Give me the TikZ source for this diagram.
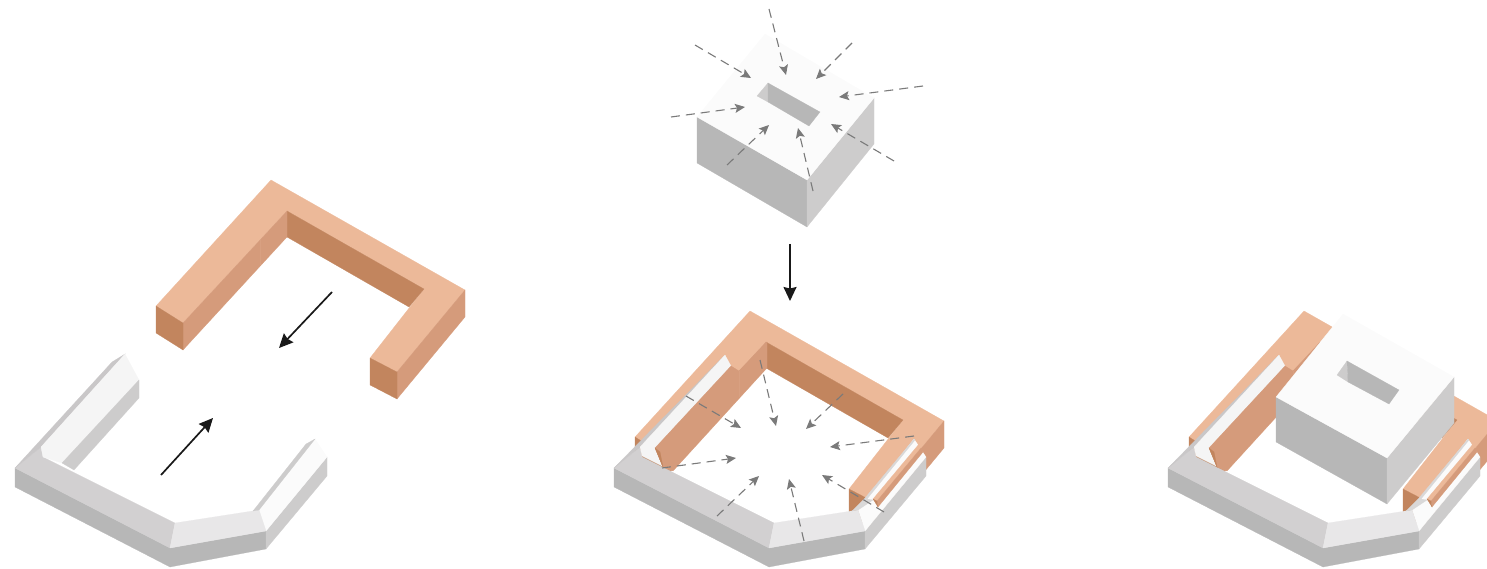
\documentclass[tikz,border=0pt]{standalone}
\usetikzlibrary{arrows.meta}
\definecolor{orangetop}{HTML}{ECB999}
\definecolor{orangeside}{HTML}{D59B7B}
\definecolor{orangeseam}{HTML}{D8A081}
\definecolor{orangedark}{HTML}{C2855E}
\definecolor{greyfront}{HTML}{B7B7B7}
\definecolor{greyside}{HTML}{CDCCCC}
\definecolor{greystrip}{HTML}{C9C7C8}
\definecolor{greyshade}{HTML}{D9D8D8}
\definecolor{greyband}{HTML}{D2D0D1}
\definecolor{paleband}{HTML}{E8E7E8}
\definecolor{paleface}{HTML}{F5F5F5}
\definecolor{whiteface}{HTML}{FBFBFB}
\tikzset{
	face/.style = {fill = #1, draw = #1, line width = 0.2pt},
	seam/.style = {draw = orangeseam, line width = 0.3pt},
	movearrow/.style = {line width = 1.7pt, color = black!90, -{Stealth[length = 14pt, width = 13pt, inset = 1.5pt]}},
	lightarrow/.style = {line width = 1.1pt, color = black!52, dash pattern = on 9pt off 6pt, -{Stealth[length = 10pt, width = 9pt, inset = 2pt]}}
}
% U shaped block, drawn as in the first panel
\newcommand{\orangeblock}{
	\fill [face = orangetop] (271,180) -- (465,290) -- (397,372) -- (370,358) -- (424,289) -- (287,211) -- (183,323) -- (156,306) -- cycle;
	\fill [face = orangeside] (465,290) -- (465,317) -- (397,399) -- (397,372) -- cycle;
	\fill [face = orangedark] (370,358) -- (397,372) -- (397,399) -- (370,385) -- cycle;
	\fill [face = orangedark] (287,211) -- (424,289) -- (409,307) -- (287,237) -- cycle;
	\fill [face = orangeside] (287,211) -- (287,237) -- (183,350) -- (183,323) -- cycle;
	\fill [face = orangedark] (156,306) -- (183,323) -- (183,350) -- (156,333) -- cycle;
	\draw [seam] (260,240) -- (260,266);
}
% front of the white base
\newcommand{\whitebase}{
	\fill [face = greyfront] (15,468) -- (170,548) -- (170,567) -- (15,487) -- cycle;
	\fill [face = greyfront] (170,548) -- (266,531) -- (266,549) -- (170,567) -- cycle;
	\fill [face = greyside] (266,531) -- (327,457) -- (327,476) -- (266,549) -- cycle;
	\fill [face = whiteface] (259,510) -- (315,439) -- (327,457) -- (266,531) -- cycle;
	\fill [face = greyband] (15,468) -- (41,447) -- (43,457) -- (175,523) -- (170,548) -- cycle;
	\fill [face = paleband] (175,523) -- (259,510) -- (266,531) -- (170,548) -- cycle;
}
% box with the open court
\newcommand{\courtbox}{
	\fill [face = greyfront] (697,117) -- (807,180) -- (807,227) -- (697,163) -- cycle;
	\fill [face = greyside] (807,180) -- (874,98) -- (874,144) -- (807,227) -- cycle;
	\fill [face = whiteface] (765,34) -- (874,98) -- (807,180) -- (697,117) -- cycle;
	\fill [face = greyside] (768,83) -- (757,96) -- (768,102) -- cycle;
	\fill [face = greyfront] (768,83) -- (820,112) -- (809,126) -- (768,102) -- cycle;
}
% both blocks pushed together, in the coordinates of the second panel
\newcommand{\fittedblocks}{
	\begin{scope}[shift = {(479,131)}]
		\orangeblock
	\end{scope}
	\begin{scope}[shift = {(599,0)}]
		\whitebase
	\end{scope}
	\fill [face = greyshade] (852,511) -- (865,498) -- (914,439) -- (915,440) -- (867,499) -- (873,500) -- (858,510) -- cycle;
	\fill [face = greystrip] (614,468) -- (725,355) -- (640,447) -- cycle;
	\fill [face = paleface] (725,355) -- (731,366) -- (655,448) -- (662,466) -- (642,456) -- (640,447) -- cycle;
	\fill [face = orangeside] (767,342) -- (767,368) -- (673,471) -- (663,467) -- (655,448) -- (731,366) -- (739,371) -- cycle;
	\draw [seam] (739,371) -- (739,397);
	\fill [face = orangedark] (655,448) -- (660,452) -- (663,467) -- cycle;
	\fill [face = orangetop] (919,444) -- (921,448) -- (877,501) -- (873,499) -- cycle;
	\fill [face = orangeside] (921,448) -- (923,452) -- (878,507) -- (877,501) -- cycle;
	\fill [face = orangedark] (873,499) -- (877,501) -- (878,507) -- cycle;
}
\begin{document}
\begin{tikzpicture}[x = 1pt, y = -1pt]
	\useasboundingbox (0,0) rectangle (1487,569);
	% first panel
	\orangeblock
	\whitebase
	\fill [face = greystrip] (15,468) -- (112,362) -- (125,354) -- (41,447) -- cycle;
	\fill [face = paleface] (125,354) -- (139,380) -- (62,463) -- (43,457) -- (41,447) -- cycle;
	\fill [face = greyside] (139,380) -- (139,398) -- (74,470) -- (62,463) -- cycle;
	\fill [face = greyside] (253,511) -- (306,444) -- (315,439) -- (259,510) -- cycle;
	\draw [movearrow] (332,292) -- (279,348);
	\draw [movearrow] (161,475) -- (213,418);
	% second panel
	\courtbox
	\draw [lightarrow] (769,9) -- (786,75);
	\draw [lightarrow] (695,45) -- (751,78);
	\draw [lightarrow] (852,43) -- (816,79);
	\draw [lightarrow] (923,86) -- (839,97);
	\draw [lightarrow] (671,117) -- (745,107);
	\draw [lightarrow] (727,165) -- (769,125);
	\draw [lightarrow] (813,191) -- (798,128);
	\draw [lightarrow] (894,161) -- (831,124);
	\draw [movearrow] (790,244) -- (790,301);
	\fittedblocks
	\draw [lightarrow] (760,360) -- (776,426);
	\draw [lightarrow] (686,396) -- (741,428);
	\draw [lightarrow] (843,394) -- (806,429);
	\draw [lightarrow] (914,436) -- (830,447);
	\draw [lightarrow] (662,468) -- (736,458);
	\draw [lightarrow] (717,516) -- (759,476);
	\draw [lightarrow] (804,541) -- (789,479);
	\draw [lightarrow] (884,512) -- (822,475);
	% third panel
	\begin{scope}[shift = {(554,0)}]
		\fittedblocks
	\end{scope}
	\fill [face = greyfront] (1276,397) -- (1387,458) -- (1387,504) -- (1276,442) -- cycle;
	\fill [face = greyside] (1387,458) -- (1454,377) -- (1454,423) -- (1387,504) -- cycle;
	\fill [face = whiteface] (1343,314) -- (1454,377) -- (1387,458) -- (1276,397) -- cycle;
	\fill [face = greyside] (1347,361) -- (1337,375) -- (1348,382) -- cycle;
	\fill [face = greyfront] (1347,361) -- (1399,390) -- (1389,404) -- (1348,382) -- cycle;
\end{tikzpicture}
\end{document}
